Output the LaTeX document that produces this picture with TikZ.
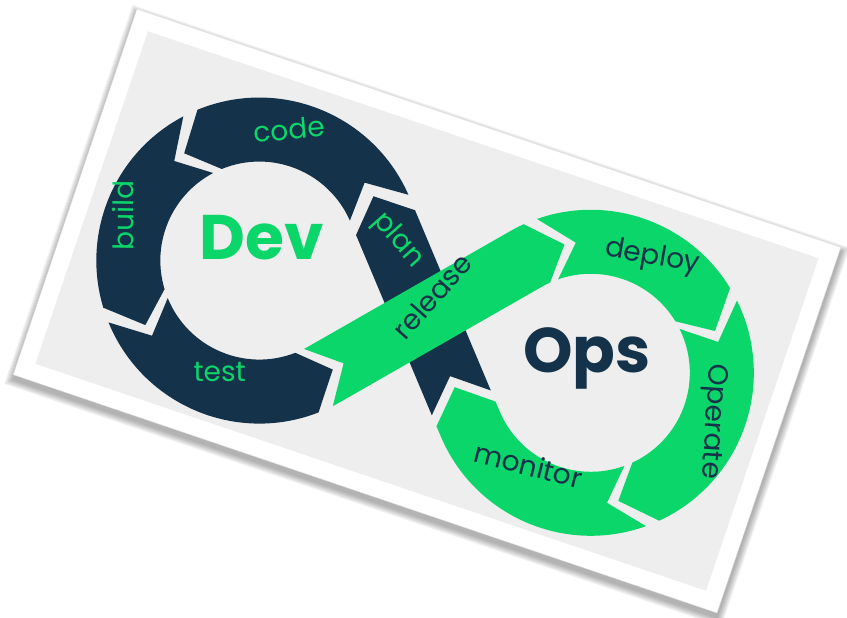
\documentclass[tikz,border=0pt]{standalone}
\usepackage{fontspec}
\setmainfont{Poppins}
\usetikzlibrary{calc}
\definecolor{dk}{HTML}{143249}
\definecolor{gr}{HTML}{0BD66A}
\definecolor{bg}{HTML}{EEEEEE}
\tikzset{
  lab/.style={font=\fontsize{28}{28}\selectfont, anchor=mid, inner sep=0pt},
  big/.style={font=\fontsize{63}{63}\selectfont\bfseries, anchor=mid, inner sep=0pt},
}
\begin{document}
\begin{tikzpicture}[x=1pt,y=1pt]
\useasboundingbox (0,0) rectangle (847,618);
\begin{scope}[shift={(427,307)}, rotate=-18.7]
  \coordinate (D) at (-175,-6);
  \coordinate (O) at (175,-6);
  \coordinate (P) at (0,-6);
  % shadow
  \foreach \k in {1,...,8} {
    \fill[black, opacity=0.045] (-371.5-\k*0.9+1.5, -193-\k*0.9-4.5) rectangle (371.5+\k*0.9+1.5, 193+\k*0.9-4.5);
  }
  % card
  \fill[white, draw=black!12, line width=0.4pt] (-371.5,-193) rectangle (371.5,193);
  \fill[bg] (-354,-175.5) rectangle (354,175.5);
  % plan (under release)
  \fill[dk] ($(P)+(-48.5:93.5)+(221.5:32)$) -- ($(P)+(131.5:102)+(221.5:32)$) -- ($(D)+(48.1:131)$)
     -- ($(P)+(131.5:102)+(41.5:32)$) -- ($(P)+(-48.5:93.5)+(41.5:32)$) -- ($(P)+(-48.5:64.5)$) -- cycle;
  % code
  \fill[dk] ($(D)+(42.5:163)$) arc[start angle=42.5,end angle=131,radius=163pt] -- ($(D)+(143.7:131)$)
     -- ($(D)+(131:99)$) arc[start angle=131,end angle=42.5,radius=99pt] -- ($(D)+(55.2:131)$) -- cycle;
  % build
  \fill[dk] ($(D)+(136.5:163)$) arc[start angle=136.5,end angle=215.5,radius=163pt] -- ($(D)+(228.2:131)$)
     -- ($(D)+(215.5:99)$) arc[start angle=215.5,end angle=136.5,radius=99pt] -- ($(D)+(149.2:131)$) -- cycle;
  % test
  \fill[dk] ($(D)+(221:163)$) arc[start angle=221,end angle=310,radius=163pt] -- ($(P)+(228.5:106.4)$)
     -- ($(D)+(310:99)$) arc[start angle=310,end angle=221,radius=99pt] -- ($(D)+(233.7:131)$) -- cycle;
  % release
  \fill[gr] ($(D)+(315.5:163)$) arc[start angle=315.5,end angle=318.5,radius=163pt]
     -- ($(O)+(138.5:99)$) arc[start angle=138.5,end angle=133,radius=99pt] -- ($(O)+(120.3:131)$)
     -- ($(O)+(133:163)$) arc[start angle=133,end angle=138.5,radius=163pt]
     -- ($(D)+(318.5:99)$) arc[start angle=318.5,end angle=315.5,radius=99pt] -- ($(P)+(228.5:93.9)$) -- cycle;
  % deploy
  \fill[gr] ($(O)+(128:163)$) arc[start angle=128,end angle=50,radius=163pt] -- ($(O)+(37.3:131)$)
     -- ($(O)+(50:99)$) arc[start angle=50,end angle=128,radius=99pt] -- ($(O)+(115.3:131)$) -- cycle;
  % operate
  \fill[gr] ($(O)+(45:163)$) arc[start angle=45,end angle=-46.5,radius=163pt] -- ($(O)+(-59.2:131)$)
     -- ($(O)+(-46.5:99)$) arc[start angle=-46.5,end angle=45,radius=99pt] -- ($(O)+(32.3:131)$) -- cycle;
  % monitor
  \fill[gr] ($(O)+(-51.5:163)$) arc[start angle=-51.5,end angle=-138.5,radius=163pt]
     -- ($(P)+(-48.5:105.5)+(221.5:32)$) -- ($(P)+(-48.5:76.5)$) -- ($(P)+(-48.5:105.5)+(41.5:32)$)
     -- ($(O)+(221.5:99)$) arc[start angle=221.5,end angle=308.5,radius=99pt] -- ($(O)+(-64.2:131)$) -- cycle;
  % labels
  \node[lab, text=gr, rotate=5] (tcode) at (-186,121) {code};
  \node[lab, text=gr, rotate=89.3] (tbuild) at (-311,-4.4) {build};
  \node[lab, text=gr, rotate=0.2] (ttest) at (-174.5,-131) {test};
  \node[lab, text=gr, rotate=-48.5] (tplan) at (-52,54) {plan};
  \node[lab, text=dk, rotate=48.5] (trelease) at (7,13) {release};
  \node[lab, text=dk, rotate=-9.8] (tdeploy) at (197,119) {deploy};
  \node[lab, text=dk, rotate=-93.6] (toperate) at (302,-14) {Operate};
  \node[lab, text=dk, rotate=-14.2] (tmonitor) at (146,-121) {monitor};
  \node[big, text=gr] (tdev) at (-174,-2) {Dev};
  \node[big, text=dk] (tops) at (170,-4) {Ops};
\end{scope}
\end{tikzpicture}
\end{document}
